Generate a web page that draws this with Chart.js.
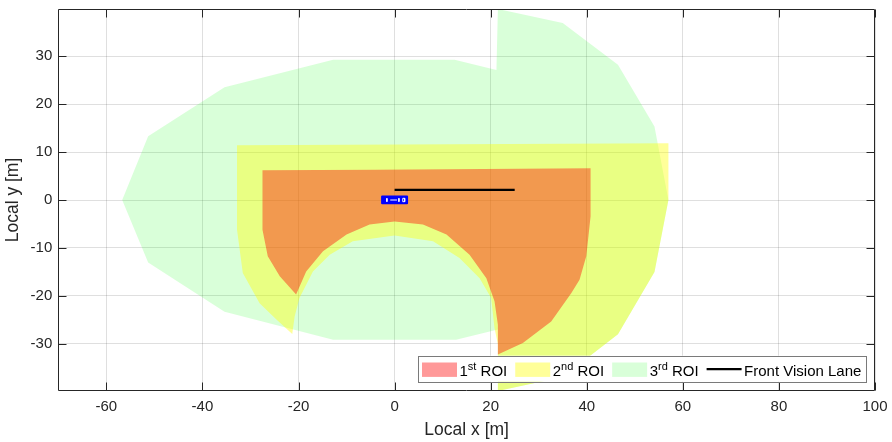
<!DOCTYPE html>
<html>
<head>
<meta charset="utf-8">
<script src="https://cdn.jsdelivr.net/npm/chart.js@4.4.0/dist/chart.umd.min.js"></script>
<style>
  html, body { margin: 0; padding: 0; background: #fff; }
</style>
</head>
<body>
<canvas id="roiChart" width="892" height="442"></canvas>
<script>
// axis ticks
var xTicks = [-60, -40, -20, 0, 20, 40, 60, 80, 100];
var yTicks = [-30, -20, -10, 0, 10, 20, 30];

// 1st ROI outline [m]
var roi1X = [-27.5, -4, 40.8, 40.8, 39.9, 38.5, 36.8, 32.6, 26.7, 21.5, 21.5, 20.8, 19.1, 15.6, 10.8, 5.9, 0, -5.2, -10, -14.9, -18.4, -20.5, -23.9, -26.4, -27.5, -27.5];
var roi1Y = [6.2, 6.3, 6.6, -3.4, -11.7, -16.6, -19.4, -25.3, -29.8, -32.2, -26, -21.1, -16.3, -11.4, -7.2, -5.1, -4.5, -5.1, -7.2, -10.7, -14.9, -19.7, -15.9, -11.7, -6.2, 6.2];

// 2nd ROI outline [m]
var roi2X = [-32.8, 57, 57, 54.1, 46.5, 35, 21.5, 21.5, 20.8, 20.1, 17.7, 13.5, 8, 0, -8.7, -13.5, -17, -19.8, -20.8, -21.3, -24.6, -28.1, -31.6, -32.8, -32.8];
var roi2Y = [11.4, 11.8, 0, -15, -28, -36.9, -39.8, -30, -26.7, -20.4, -16.3, -12.1, -8.6, -7.4, -8.6, -11.4, -14.9, -20.4, -24.3, -27.9, -24.9, -21.5, -15.2, -6.2, 11.4];

// 3rd ROI outline [m]
var roi3X = [-56.7, -51.3, -35.4, -12.8, 12.5, 21.2, 21.5, 35, 46.5, 54.1, 57, 54.1, 46.5, 35, 21.5, 21.5, 12.8, -12.8, -35.4, -51.3, -56.7];
var roi3Y = [0, 13.3, 23.5, 29.2, 29.2, 27.1, 39.8, 36.9, 28.2, 15.3, 0, -15, -28, -36.9, -39.8, -27, -29.1, -29.1, -23.3, -13, 0];

// front vision lane
var laneX = [0, 25];
var laneY = [2.1, 2.1];

// ego vehicle box and its markings
var vehX = [-2.6, 2.6, 2.6, -2.6, -2.6];
var vehY = [-0.7, -0.7, 0.75, 0.75, -0.7];
var markX = [-1.6, -1.6, -1.6, -0.9, 0.5, 0.5, 0.9, 0.9, 0.9, 1.7, 2.1, 2.1, 1.7, 1.7];
var markY = [0.35, -0.35, null, 0, 0, null, 0.35, -0.35, null, 0.35, 0.35, -0.35, -0.35, 0.35];

// legend labels
var legendNum = ['1', '2', '3'];
var legendSup = ['st', 'nd', 'rd'];
var legendLine = 'Front Vision Lane';

var RED = 'rgba(255,0,0,0.4)';
var YELLOW = 'rgba(255,255,0,0.4)';
var GREEN = 'rgba(0,255,0,0.15)';
var TEXT = '#262626';
var FONT = "'Liberation Sans', Arial, sans-serif";

function pts(xs, ys) {
  return xs.map(function(x, i) { return { x: x, y: ys[i] }; });
}

function polygon(xs, ys, color, order) {
  return {
    data: pts(xs, ys),
    showLine: true,
    fill: 'shape',
    backgroundColor: color,
    borderColor: 'rgba(0,0,0,0)',
    borderWidth: 0,
    pointRadius: 0,
    tension: 0,
    order: order
  };
}

var datasets = [
  polygon(roi3X, roi3Y, GREEN, 5),
  polygon(roi2X, roi2Y, YELLOW, 4),
  polygon(roi1X, roi1Y, RED, 3),
  {
    data: pts(laneX, laneY),
    showLine: true,
    borderColor: '#000',
    borderWidth: 2.2,
    pointRadius: 0,
    order: 2
  },
  {
    data: pts(vehX, vehY),
    showLine: true,
    fill: 'shape',
    backgroundColor: '#0000ff',
    borderColor: '#0000ff',
    borderWidth: 2,
    borderJoinStyle: 'round',
    pointRadius: 0,
    order: 1
  },
  {
    data: pts(markX, markY),
    showLine: true,
    spanGaps: false,
    borderColor: '#ffffff',
    borderWidth: 1,
    pointRadius: 0,
    order: 0
  }
];

// box and inward ticks on all four sides
var framePlugin = {
  id: 'frame',
  afterDatasetsDraw: function(chart) {
    var ctx = chart.ctx, a = chart.chartArea;
    var xs = chart.scales.x, ys = chart.scales.y;
    var l = Math.round(a.left) + 0.5, r = Math.round(a.right) - 0.5;
    var t = Math.round(a.top) + 0.5, b = Math.round(a.bottom) - 0.5;
    var len = 8;
    ctx.save();
    ctx.strokeStyle = TEXT;
    ctx.lineWidth = 1;
    ctx.beginPath();
    ctx.rect(l, t, r - l, b - t);
    xTicks.forEach(function(v) {
      var px = Math.round(xs.getPixelForValue(v)) + 0.5;
      ctx.moveTo(px, b); ctx.lineTo(px, b - len);
      ctx.moveTo(px, t); ctx.lineTo(px, t + len);
    });
    yTicks.forEach(function(v) {
      var py = Math.round(ys.getPixelForValue(v)) + 0.5;
      ctx.moveTo(l, py); ctx.lineTo(l + len, py);
      ctx.moveTo(r, py); ctx.lineTo(r - len, py);
    });
    ctx.stroke();
    ctx.restore();
  }
};

// legend with superscript ordinals
var legendPlugin = {
  id: 'roiLegend',
  afterDraw: function(chart) {
    var ctx = chart.ctx, a = chart.chartArea;
    var mainFont = '15px ' + FONT, supFont = '11px ' + FONT;
    var colors = [RED, YELLOW, GREEN];
    var sw = 35, gapIn = 2.5, gapOut = 8, padL = 4, padR = 5, h = 26;
    ctx.save();
    var items = [];
    for (var i = 0; i < legendNum.length; i++) {
      ctx.font = mainFont;
      var w1 = ctx.measureText(legendNum[i]).width;
      var w3 = ctx.measureText(' ROI').width;
      ctx.font = supFont;
      var w2 = ctx.measureText(legendSup[i]).width;
      items.push({ type: 'box', color: colors[i], w: w1 + w2 + w3, w1: w1, w2: w2 });
    }
    ctx.font = mainFont;
    items.push({ type: 'line', w: ctx.measureText(legendLine).width });
    var total = padL + padR;
    items.forEach(function(it, k) {
      total += sw + gapIn + it.w + (k < items.length - 1 ? gapOut : 0);
    });
    var right = a.right - 8.6, bottom = a.bottom - 9.3;
    var left = right - total, top = bottom - h;
    ctx.fillStyle = '#fff';
    ctx.fillRect(left, top, total, h);
    ctx.strokeStyle = '#7a7a7a';
    ctx.lineWidth = 1;
    ctx.strokeRect(Math.round(left) + 0.5, Math.round(top) + 0.5, Math.round(total), Math.round(h));
    var x = left + padL;
    var base = top + 20.5;
    items.forEach(function(it, k) {
      if (it.type === 'box') {
        ctx.fillStyle = it.color;
        ctx.fillRect(x, top + 6.8, sw, 14.4);
      } else {
        ctx.strokeStyle = '#000';
        ctx.lineWidth = 2.2;
        ctx.beginPath();
        ctx.moveTo(x, top + 13.5);
        ctx.lineTo(x + sw, top + 13.5);
        ctx.stroke();
      }
      x += sw + gapIn;
      ctx.fillStyle = '#000';
      ctx.textBaseline = 'alphabetic';
      ctx.textAlign = 'left';
      if (it.type === 'box') {
        ctx.font = mainFont;
        ctx.fillText(legendNum[k], x, base);
        ctx.font = supFont;
        ctx.fillText(legendSup[k], x + it.w1, base - 6);
        ctx.font = mainFont;
        ctx.fillText(' ROI', x + it.w1 + it.w2, base);
      } else {
        ctx.font = mainFont;
        ctx.fillText(legendLine, x, base);
      }
      x += it.w + gapOut;
    });
    ctx.restore();
  }
};

var ctx = document.getElementById('roiChart').getContext('2d');
var chart = new Chart(ctx, {
  type: 'scatter',
  data: { datasets: datasets },
  options: {
    responsive: false,
    animation: false,
    devicePixelRatio: 1,
    layout: { padding: { left: 0, right: 17, top: 9, bottom: 0 } },
    plugins: {
      legend: { display: false },
      tooltip: { enabled: false }
    },
    scales: {
      x: {
        type: 'linear',
        min: -70,
        max: 100,
        afterBuildTicks: function(axis) {
          axis.ticks = xTicks.map(function(v) { return { value: v }; });
        },
        afterFit: function(axis) {
          axis.height = 51;
          axis.paddingLeft = 0;
          axis.paddingRight = 0;
        },
        grid: { color: 'rgba(38,38,38,0.15)', lineWidth: 1, drawTicks: false },
        border: { display: false },
        ticks: {
          color: TEXT,
          padding: 7,
          maxRotation: 0,
          autoSkip: false,
          font: { family: FONT, size: 15 }
        },
        title: {
          display: true,
          text: 'Local x [m]',
          color: TEXT,
          padding: { top: 0, bottom: 1 },
          font: { family: FONT, size: 17.5 }
        }
      },
      y: {
        type: 'linear',
        min: -39.8,
        max: 39.8,
        afterBuildTicks: function(axis) {
          axis.ticks = yTicks.map(function(v) { return { value: v }; });
        },
        afterFit: function(axis) {
          axis.width = 58.3;
          axis.paddingTop = 0;
          axis.paddingBottom = 0;
        },
        grid: { color: 'rgba(38,38,38,0.15)', lineWidth: 1, drawTicks: false },
        border: { display: false },
        ticks: {
          color: TEXT,
          padding: 6,
          autoSkip: false,
          font: { family: FONT, size: 15 }
        },
        title: {
          display: true,
          text: 'Local y [m]',
          color: TEXT,
          padding: { top: 2.5, bottom: 0 },
          font: { family: FONT, size: 17.5 }
        }
      }
    }
  },
  plugins: [framePlugin, legendPlugin]
});
</script>
</body>
</html>
